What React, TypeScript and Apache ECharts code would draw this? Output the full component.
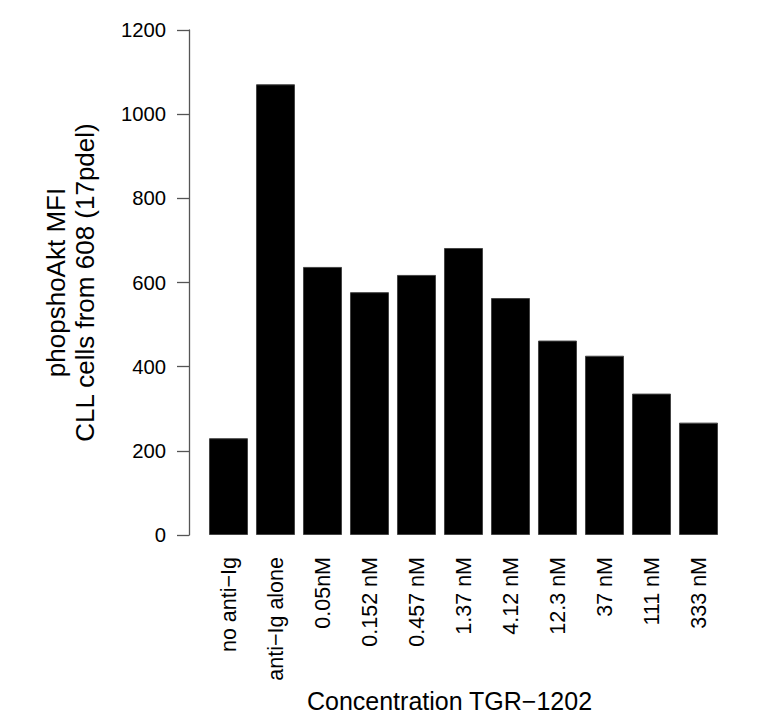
import React, { useEffect, useRef } from "react";
import * as echarts from "echarts";

const categories = [
  "no anti\u2212Ig",
  "anti\u2212Ig alone",
  "0.05nM",
  "0.152 nM",
  "0.457 nM",
  "1.37 nM",
  "4.12 nM",
  "12.3 nM",
  "37 nM",
  "111 nM",
  "333 nM",
];
const values = [230, 1071, 637, 577, 618, 682, 563, 462, 426, 336, 267];
const yTicks = { min: 0, max: 1200, interval: 200 };

export default function App() {
  const ref = useRef<HTMLDivElement>(null);
  useEffect(() => {
    if (!ref.current) return;
    const chart = echarts.init(ref.current, undefined, { renderer: "svg" });
    const font = "'Liberation Sans', Arial, Helvetica, sans-serif";
    chart.setOption({
      animation: false,
      backgroundColor: "#ffffff",
      grid: {
        left: 197,
        top: 22,
        width: 517,
        height: 505,
        containLabel: false,
        outerBoundsMode: "none",
      },
      xAxis: {
        type: "category",
        data: categories,
        axisLine: { show: false },
        axisTick: { show: false },
        axisLabel: {
          rotate: 90,
          margin: 22,
          color: "#000",
          fontSize: 21.5,
          fontFamily: font,
          interval: 0,
        },
        name: "Concentration TGR\u22121202",
        nameLocation: "middle",
        nameGap: 147,
        nameTextStyle: {
          color: "#000",
          fontSize: 25,
          fontFamily: font,
          padding: [0, 28, 0, 0],
        },
      },
      yAxis: {
        type: "value",
        min: yTicks.min,
        max: yTicks.max,
        interval: yTicks.interval,
        offset: 16,
        splitLine: { show: false },
        axisLine: { show: true, lineStyle: { color: "#555", width: 1.3 } },
        axisTick: { show: true, length: 12, lineStyle: { color: "#555", width: 1.3 } },
        axisLabel: {
          margin: 23,
          color: "#000",
          fontSize: 20.3,
          fontFamily: font,
          formatter: (v: number) => String(v),
        },
        name: "phopshoAkt MFI\nCLL cells from 608 (17pdel)",
        nameLocation: "middle",
        nameGap: 90,
        nameRotate: 90,
        nameTextStyle: { color: "#000", fontSize: 26, fontFamily: font, lineHeight: 29 },
      },
      series: [
        {
          type: "bar",
          data: values,
          barCategoryGap: "17%",
          itemStyle: { color: "#000", borderColor: "#444", borderWidth: 1 },
        },
      ],
    });
    return () => chart.dispose();
  }, []);
  return <div ref={ref} style={{ width: 758, height: 712, marginBottom: -8 }} />;
}
